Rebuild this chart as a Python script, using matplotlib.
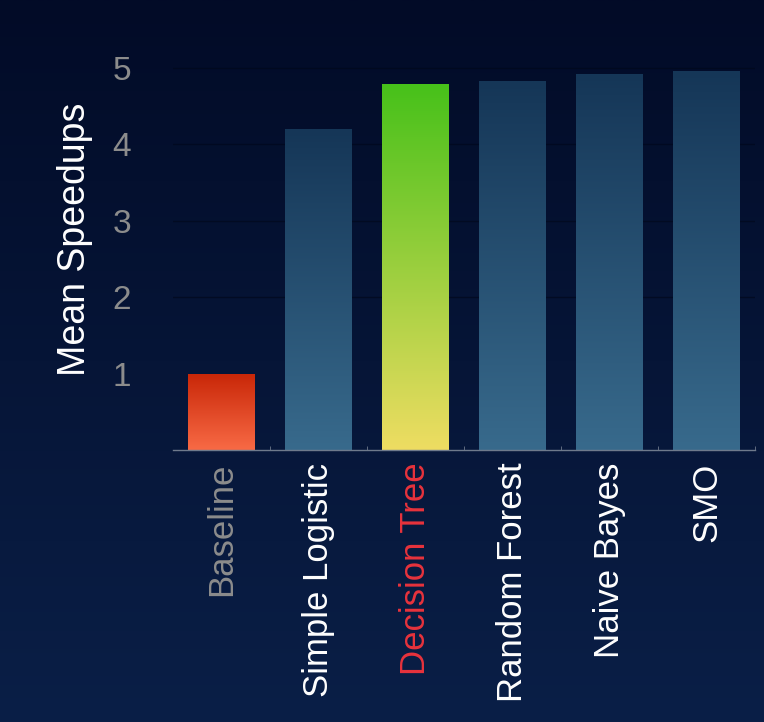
import numpy as np
import matplotlib.pyplot as plt
from matplotlib.patches import Rectangle
from matplotlib.colors import LinearSegmentedColormap

# ====== Data ======
classifiers = ["Baseline", "Simple Logistic", "Decision Tree",
               "Random Forest", "Naive Bayes", "SMO"]
speedups = [0.99, 4.19, 4.78, 4.82, 4.92, 4.96]
yticks = [1, 2, 3, 4, 5]
label_colors = ["#8c8c8c", "white", "#e8333c", "white", "white", "white"]

# ====== Style ======
plt.rcParams["font.family"] = ["Liberation Sans", "DejaVu Sans"]

bar_grads = {
    "Baseline": ("#f86a45", "#c92708"),
    "Decision Tree": ("#eedd62", "#47c11a"),
}
blue_grad = ("#386a8c", "#153657")

fig = plt.figure(figsize=(7.64, 7.22), dpi=100)

# background gradient
bg = fig.add_axes([0, 0, 1, 1], zorder=-10)
bg_cmap = LinearSegmentedColormap.from_list("bg", ["#0a1f47", "#020b27"])
bg.imshow(np.linspace(0, 1, 256).reshape(-1, 1), aspect="auto", cmap=bg_cmap,
          extent=[0, 1, 0, 1], origin="lower")
bg.axis("off")

ax = fig.add_axes([0.2264, 0.3767, 0.7618, 0.551])
ax.patch.set_alpha(0)

x = np.arange(len(classifiers))
width = 0.69

# faint dark grid
for t in yticks[1:]:
    ax.axhline(t, color="#010719", lw=1.0, alpha=0.6, zorder=1)

grad = np.linspace(0, 1, 256).reshape(-1, 1)
for xi, val, name in zip(x, speedups, classifiers):
    c_bot, c_top = bar_grads.get(name, blue_grad)
    cmap = LinearSegmentedColormap.from_list(name, [c_bot, c_top])
    rect = Rectangle((xi - width / 2, 0), width, val, facecolor="none",
                     edgecolor="none", zorder=2)
    ax.add_patch(rect)
    im = ax.imshow(grad, aspect="auto", cmap=cmap, origin="lower",
                   extent=[xi - width / 2, xi + width / 2, 0, val], zorder=2)
    im.set_clip_path(rect)

ax.set_xlim(-0.5, len(classifiers) - 0.5)
ax.set_ylim(0, 5.2)

# axes / ticks
for s in ["top", "right", "left"]:
    ax.spines[s].set_visible(False)
ax.spines["bottom"].set_color("#6f7a8c")
ax.spines["bottom"].set_linewidth(1)

ax.set_yticks(yticks)
ax.set_yticklabels([str(t) for t in yticks], fontsize=24, color="#8c8c8c")
ax.tick_params(axis="y", length=0, pad=30)

ax.set_xticks(x)
ax.set_xticklabels(classifiers, rotation=90, fontsize=25, va="top")
for lbl, col in zip(ax.get_xticklabels(), label_colors):
    lbl.set_color(col)
ax.tick_params(axis="x", length=0, pad=9)
ax.set_xticks(x + 0.5, minor=True)
ax.tick_params(axis="x", which="minor", length=3, direction="in", color="#6f7a8c")

ax.set_ylabel("Mean Speedups", fontsize=27, color="white")
ax.yaxis.set_label_coords(-0.138, 0.53)

plt.savefig("out.png", dpi=100, facecolor=fig.get_facecolor())
